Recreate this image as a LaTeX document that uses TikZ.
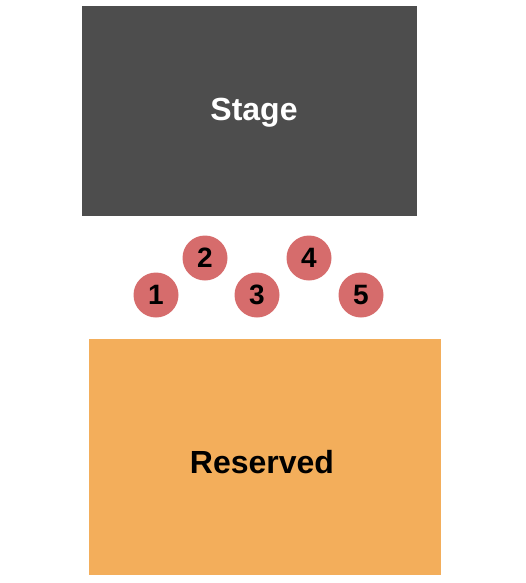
\documentclass[tikz,border=0pt]{standalone}
\usepackage{fontspec}
\setmainfont{Liberation Sans}
\definecolor{stagegray}{RGB}{77,77,77}
\definecolor{seatred}{RGB}{214,108,108}
\definecolor{resorange}{RGB}{243,174,91}
\begin{document}
\begin{tikzpicture}[x=1pt,y=-1pt,
  arealabel/.style={font=\fontsize{32}{32}\selectfont\bfseries,anchor=base,inner sep=0pt},
  seat/.style={circle,fill=seatred,draw=none,minimum size=45pt,inner sep=0pt,
    font=\fontsize{28}{28}\selectfont\bfseries,text=black}]
\useasboundingbox (0,0) rectangle (525,583);
\fill[stagegray] (82,6) rectangle (417,216);
\node[arealabel,text=white] (stage) at (254,121) {Stage};
\fill[resorange] (89,339) rectangle (441,575);
\node[arealabel,text=black] (reserved) at (262,473) {Reserved};
\node[seat] (s1) at (156,295) {1};
\node[seat] (s2) at (205,258) {2};
\node[seat] (s3) at (257,295) {3};
\node[seat] (s4) at (309,258) {4};
\node[seat] (s5) at (361,295) {5};
\end{tikzpicture}
\end{document}
